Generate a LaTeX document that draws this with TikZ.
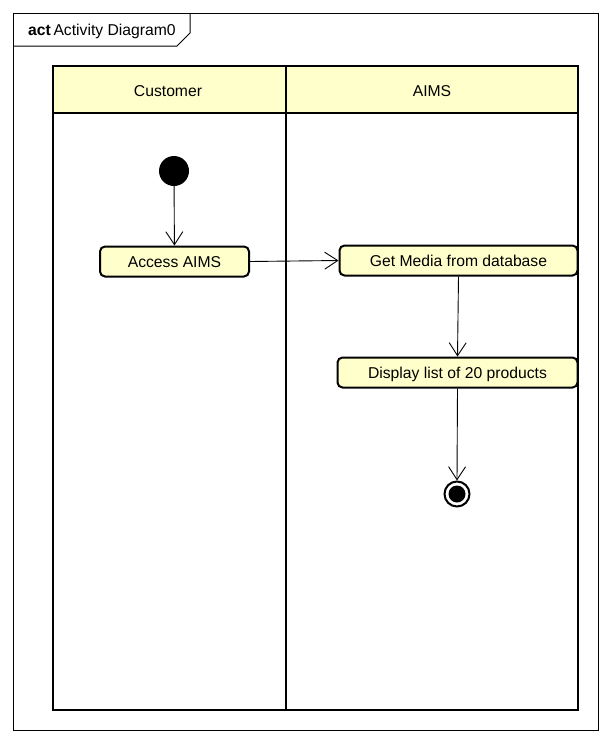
\documentclass[tikz,border=0pt]{standalone}
\usepackage{fontspec}
\setmainfont{Liberation Sans}
\usetikzlibrary{arrows.meta}
\definecolor{actfill}{HTML}{FFFFCC}
\tikzset{
  actbox/.style={draw=black, line width=2pt, fill=actfill, rounded corners=5pt, minimum height=30pt, inner sep=0pt, text height=12pt, text depth=0pt, font=\fontsize{15.7}{18}\selectfont},
  flow/.style={draw=black, line width=0.9pt, -{Straight Barb[length=13pt,width=17pt,line width=0.9pt]}},
  lane/.style={draw=black, line width=2.5pt},
  lbl/.style={font=\fontsize{15.7}{18}\selectfont, inner sep=0pt}
}
\begin{document}
\begin{tikzpicture}[x=1pt,y=-1pt]
\useasboundingbox (0,0) rectangle (612,744);
\fill[white] (0,0) rectangle (612,744);
% outer frame
\draw[line width=1pt] (13,13) rectangle (598,730);
\draw[line width=1pt] (13,46) -- (177,46) -- (190,33) -- (190,13);
\node[lbl, anchor=west] (title) at (28,31.5) {\textbf{act}\,Activity Diagram0};
% swimlanes
\fill[actfill] (53,66) rectangle (578,113);
\draw[lane] (53,66) rectangle (578,710);
\draw[lane] (53,113) -- (578,113);
\draw[lane] (286,66) -- (286,710);
\node[lbl] (lane1) at (168,91.5) {Customer};
\node[lbl] (lane2) at (432,91.5) {AIMS};
% nodes
\node[circle, fill=black, minimum size=30pt, inner sep=0pt] (init) at (174,171) {};
\node[actbox, minimum width=149pt] (access) at (174.5,261.5) {Access AIMS};
\node[actbox, minimum width=238pt] (getmedia) at (458.5,260.5) {Get Media from database};
\node[actbox, minimum width=240pt] (display) at (457.5,372.5) {Display list of 20 products};
\node[circle, draw=black, line width=2pt, fill=white, minimum size=25pt, inner sep=0pt] (final) at (457,494) {};
\node[circle, fill=black, minimum size=17pt, inner sep=0pt] (finalin) at (final.center) {};
% connectors
\draw[flow] (init) -- (access);
\draw[flow] (access.east) -- (getmedia.west);
\draw[flow] (getmedia.south) -- (display.north);
\draw[flow] (display.south) -- (final.north);
\end{tikzpicture}
\end{document}
